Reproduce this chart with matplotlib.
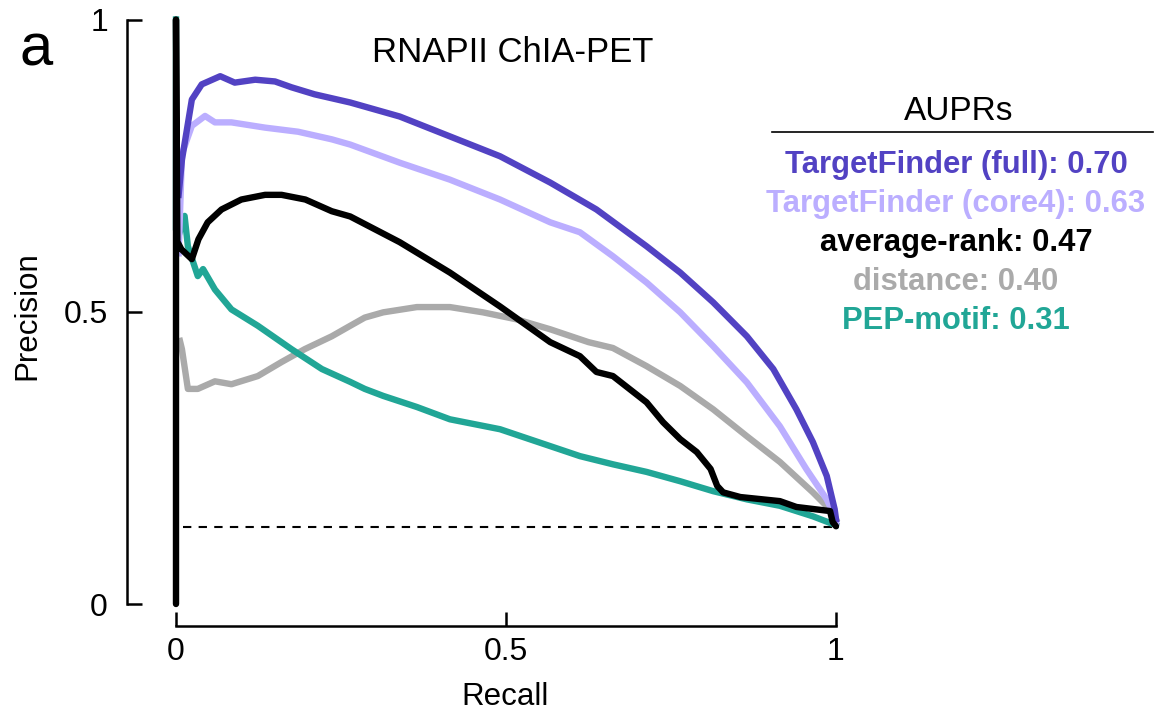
import matplotlib
matplotlib.use("Agg")
import matplotlib.pyplot as plt
from matplotlib.lines import Line2D

plt.rcParams['font.family'] = ['Liberation Sans', 'DejaVu Sans']

# precision-recall curves
full_recall = [0.004, 0.009, 0.024, 0.039, 0.067, 0.089, 0.12, 0.15, 0.175, 0.21, 0.264, 0.339,
               0.415, 0.491, 0.567, 0.637, 0.713, 0.764, 0.814, 0.865, 0.905, 0.94, 0.965,
               0.986, 0.998, 1.0]
full_prec = [0.70, 0.76, 0.863, 0.889, 0.903, 0.892, 0.897, 0.894, 0.884, 0.872, 0.858, 0.834,
             0.80, 0.766, 0.721, 0.675, 0.612, 0.567, 0.516, 0.458, 0.402, 0.333, 0.277,
             0.219, 0.162, 0.145]

core4_recall = [0.004, 0.007, 0.009, 0.024, 0.044, 0.059, 0.084, 0.135, 0.185, 0.236, 0.264,
                0.339, 0.415, 0.491, 0.567, 0.612, 0.662, 0.713, 0.764, 0.814, 0.865, 0.915,
                0.955, 0.986, 0.998, 1.0]
core4_prec = [0.60, 0.70, 0.77, 0.818, 0.835, 0.824, 0.824, 0.815, 0.808, 0.795, 0.786,
              0.755, 0.726, 0.692, 0.653, 0.636, 0.595, 0.55, 0.499, 0.441, 0.379, 0.304,
              0.231, 0.179, 0.15, 0.14]

avg_recall = [0.0, 0.0, 0.002, 0.008, 0.024, 0.034, 0.048, 0.069, 0.099, 0.135, 0.16, 0.196,
              0.236, 0.264, 0.339, 0.415, 0.491, 0.567, 0.612, 0.637, 0.662, 0.713, 0.738,
              0.764, 0.789, 0.81, 0.82, 0.829, 0.855, 0.915, 0.94, 0.991, 0.995, 1.0]
avg_prec = [0.0, 1.0, 0.62, 0.607, 0.59, 0.624, 0.653, 0.675, 0.692, 0.70, 0.70, 0.692,
            0.672, 0.663, 0.619, 0.567, 0.509, 0.448, 0.424, 0.397, 0.39, 0.345, 0.311,
            0.282, 0.26, 0.231, 0.202, 0.191, 0.183, 0.176, 0.166, 0.159, 0.14, 0.133]

dist_recall = [0.006, 0.009, 0.018, 0.033, 0.059, 0.084, 0.124, 0.16, 0.195, 0.236, 0.264,
               0.286, 0.314, 0.365, 0.415, 0.465, 0.516, 0.567, 0.625, 0.662, 0.713, 0.764,
               0.814, 0.865, 0.915, 0.965, 0.995, 1.0]
dist_prec = [0.45, 0.436, 0.368, 0.368, 0.381, 0.376, 0.39, 0.414, 0.436, 0.458, 0.476,
             0.49, 0.499, 0.508, 0.508, 0.499, 0.487, 0.47, 0.448, 0.438, 0.407, 0.373,
             0.333, 0.287, 0.243, 0.191, 0.157, 0.145]

pep_recall = [0.0, 0.0, 0.004, 0.013, 0.018, 0.033, 0.041, 0.059, 0.084, 0.124, 0.175, 0.221,
              0.264, 0.286, 0.314, 0.365, 0.415, 0.491, 0.612, 0.662, 0.713, 0.764, 0.814,
              0.865, 0.915, 0.965, 0.995, 1.0]
pep_prec = [1.0, 0.64, 0.63, 0.664, 0.612, 0.561, 0.573, 0.538, 0.504, 0.476, 0.436, 0.402,
            0.38, 0.368, 0.356, 0.337, 0.316, 0.299, 0.253, 0.239, 0.226, 0.21, 0.193,
            0.179, 0.168, 0.15, 0.137, 0.135]

baseline = 0.132

labels = ["TargetFinder (full): 0.70", "TargetFinder (core4): 0.63", "average-rank: 0.47",
          "distance: 0.40", "PEP-motif: 0.31"]
colors = ["#5242c3", "#bbaeff", "#000000", "#aaaaaa", "#21a696"]

W, H = 1154, 712
fig = plt.figure(figsize=(W / 100, H / 100), dpi=100)
ax = fig.add_axes([176 / W, 1 - 604 / H, 660 / W, 584.5 / H])

lw = 4.6
ax.plot(dist_recall, dist_prec, color=colors[3], lw=lw, clip_on=False, zorder=2)
ax.plot(pep_recall, pep_prec, color=colors[4], lw=lw, clip_on=False, zorder=3)
ax.plot(core4_recall, core4_prec, color=colors[1], lw=lw, clip_on=False, zorder=4)
ax.plot(full_recall, full_prec, color=colors[0], lw=lw, clip_on=False, zorder=5)
ax.plot(avg_recall, avg_prec, color=colors[2], lw=lw, clip_on=False, zorder=6,
        solid_capstyle='round', solid_joinstyle='round')
ax.plot([0.01, 1.0], [baseline, baseline], color='black', lw=1.5, ls=(0, (4, 3.5)), zorder=1)

ax.set_xlim(0, 1)
ax.set_ylim(0, 1)
for s in ['top', 'right']:
    ax.spines[s].set_visible(False)
ax.spines['left'].set_position(('outward', 35))
ax.spines['bottom'].set_position(('outward', 15.5))
for s in ['left', 'bottom']:
    ax.spines[s].set_linewidth(1.8)
ax.set_xticks([0, 0.5, 1])
ax.set_xticklabels(["0", "0.5", "1"])
ax.set_yticks([0, 0.5, 1])
ax.set_yticklabels(["0", "0.5", "1"])
ax.tick_params(axis='y', direction='in', length=11, width=1.8, labelsize=23, pad=14)
ax.tick_params(axis='x', direction='in', length=10, width=1.8, labelsize=23, pad=8)
ax.set_xlabel("Recall", fontsize=22.5, va='center')
ax.set_ylabel("Precision", fontsize=22.5, va='center')
ax.xaxis.set_label_coords(0.4985, (604 - 697) / 584.5)
ax.yaxis.set_label_coords((27 - 176) / 660, (604 - 316) / 584.5)

fig.text(36 / W, 1 - 65 / H, "a", fontsize=43, ha='center', va='baseline')
fig.text(513 / W, 1 - 62 / H, "RNAPII ChIA-PET", fontsize=25, ha='center', va='baseline')

fig.text(959 / W, 1 - 120 / H, "AUPRs", fontsize=24, ha='center', va='baseline')
fig.add_artist(Line2D([772 / W, 1153 / W], [1 - 132 / H, 1 - 132 / H], color='black', lw=1.2))
baselines = [173, 212, 251, 290, 329]
for lab, c, y in zip(labels, colors, baselines):
    fig.text(956 / W, 1 - y / H, lab, fontsize=22.3, fontweight='bold', color=c,
             ha='center', va='baseline')

fig.savefig("out.png", dpi=100)
